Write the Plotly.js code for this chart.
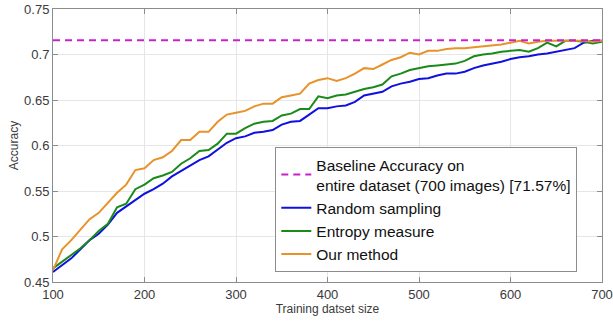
<!DOCTYPE html>
<html>
<head>
<meta charset="utf-8">
<script src="https://cdn.plot.ly/plotly-3.0.1.min.js"></script>
<style>html,body{margin:0;padding:0;background:#fff;}#chart{width:613px;height:323px;}</style>
</head>
<body>
<div id="chart"></div>
<script>
const trainSize = [100,110,120,130,140,150,160,170,180,190,200,210,220,230,240,250,260,270,280,290,300,310,320,330,340,350,360,370,380,390,400,410,420,430,440,450,460,470,480,490,500,510,520,530,540,550,560,570,580,590,600,610,620,630,640,650,660,670,680,690,700];
const randomSampling = [0.461,0.468,0.476,0.486,0.496,0.503,0.513,0.526,0.533,0.541,0.547,0.552,0.558,0.566,0.572,0.578,0.584,0.588,0.596,0.603,0.608,0.610,0.614,0.615,0.617,0.623,0.626,0.627,0.634,0.641,0.641,0.643,0.644,0.648,0.655,0.657,0.659,0.665,0.668,0.670,0.673,0.674,0.677,0.679,0.679,0.681,0.685,0.688,0.690,0.692,0.695,0.697,0.698,0.700,0.701,0.703,0.705,0.707,0.713,0.715,0.715];
const entropyMeasure = [0.465,0.472,0.480,0.487,0.496,0.506,0.514,0.532,0.536,0.552,0.557,0.564,0.567,0.571,0.580,0.586,0.594,0.595,0.602,0.613,0.613,0.619,0.624,0.626,0.627,0.633,0.635,0.640,0.640,0.654,0.652,0.655,0.656,0.659,0.662,0.664,0.667,0.676,0.679,0.683,0.685,0.687,0.688,0.689,0.690,0.693,0.698,0.700,0.701,0.703,0.704,0.705,0.703,0.707,0.713,0.709,0.715,0.715,0.714,0.712,0.714];
const ourMethod = [0.463,0.486,0.496,0.508,0.519,0.526,0.537,0.548,0.557,0.573,0.575,0.584,0.587,0.594,0.606,0.606,0.615,0.615,0.626,0.634,0.636,0.638,0.643,0.646,0.646,0.653,0.655,0.657,0.668,0.672,0.674,0.671,0.674,0.679,0.685,0.684,0.689,0.694,0.697,0.702,0.700,0.704,0.704,0.706,0.707,0.707,0.708,0.709,0.710,0.711,0.713,0.715,0.712,0.714,0.715,0.715,0.715,0.715,0.715,0.714,0.715];
const baselineX = [100, 700];
const baselineY = [0.7157, 0.7157];
const xTicks = [100,200,300,400,500,600,700];
const yTicks = [0.45,0.5,0.55,0.6,0.65,0.7,0.75];
const yTickText = ['0.45','0.5','0.55','0.6','0.65','0.7','0.75'];

const traces = [
  {x: trainSize, y: randomSampling, mode: 'lines', name: 'Random sampling', legendrank: 2,
   line: {color: '#1010e0', width: 2}},
  {x: trainSize, y: entropyMeasure, mode: 'lines', name: 'Entropy measure', legendrank: 3,
   line: {color: '#1a8a1a', width: 2}},
  {x: trainSize, y: ourMethod, mode: 'lines', name: 'Our method', legendrank: 4,
   line: {color: '#e8922a', width: 2}},
  {x: baselineX, y: baselineY, mode: 'lines', name: 'Baseline Accuracy on<br>entire dataset (700 images) [71.57%]', legendrank: 1,
   line: {color: '#cc1fcc', width: 2, dash: '7px,5px'}}
];

const axisCommon = {
  showline: true, linecolor: '#8c8c8c', linewidth: 1, mirror: 'ticks',
  ticks: 'inside', ticklen: 5, tickcolor: '#8c8c8c',
  showgrid: true, gridcolor: '#e6e6e6', gridwidth: 1, zeroline: false,
  tickfont: {family: 'Liberation Sans, Arial, sans-serif', size: 13, color: '#3a3a3a'}
};

const layout = {
  width: 613, height: 323,
  margin: {l: 53, r: 11, t: 9, b: 41},
  paper_bgcolor: '#ffffff', plot_bgcolor: '#ffffff',
  showlegend: true,
  xaxis: Object.assign({}, axisCommon, {
    range: [100, 700], tickvals: xTicks,
    title: {text: 'Training datset size', standoff: 4,
      font: {family: 'Liberation Sans, Arial, sans-serif', size: 12, color: '#3a3a3a'}}
  }),
  yaxis: Object.assign({}, axisCommon, {
    range: [0.45, 0.75], tickvals: yTicks, ticktext: yTickText,
    title: {text: 'Accuracy', standoff: 2,
      font: {family: 'Liberation Sans, Arial, sans-serif', size: 12, color: '#3a3a3a'}}
  }),
  legend: {
    x: 0.955, y: 0.037, xanchor: 'right', yanchor: 'bottom',
    bgcolor: '#ffffff', bordercolor: '#8c8c8c', borderwidth: 1,
    font: {family: 'Liberation Sans, Arial, sans-serif', size: 15.5, color: '#111111'},
    tracegroupgap: 0, itemwidth: 30, valign: 'middle'
  }
};

Plotly.newPlot('chart', traces, layout, {displayModeBar: false, staticPlot: true});
</script>
</body>
</html>
